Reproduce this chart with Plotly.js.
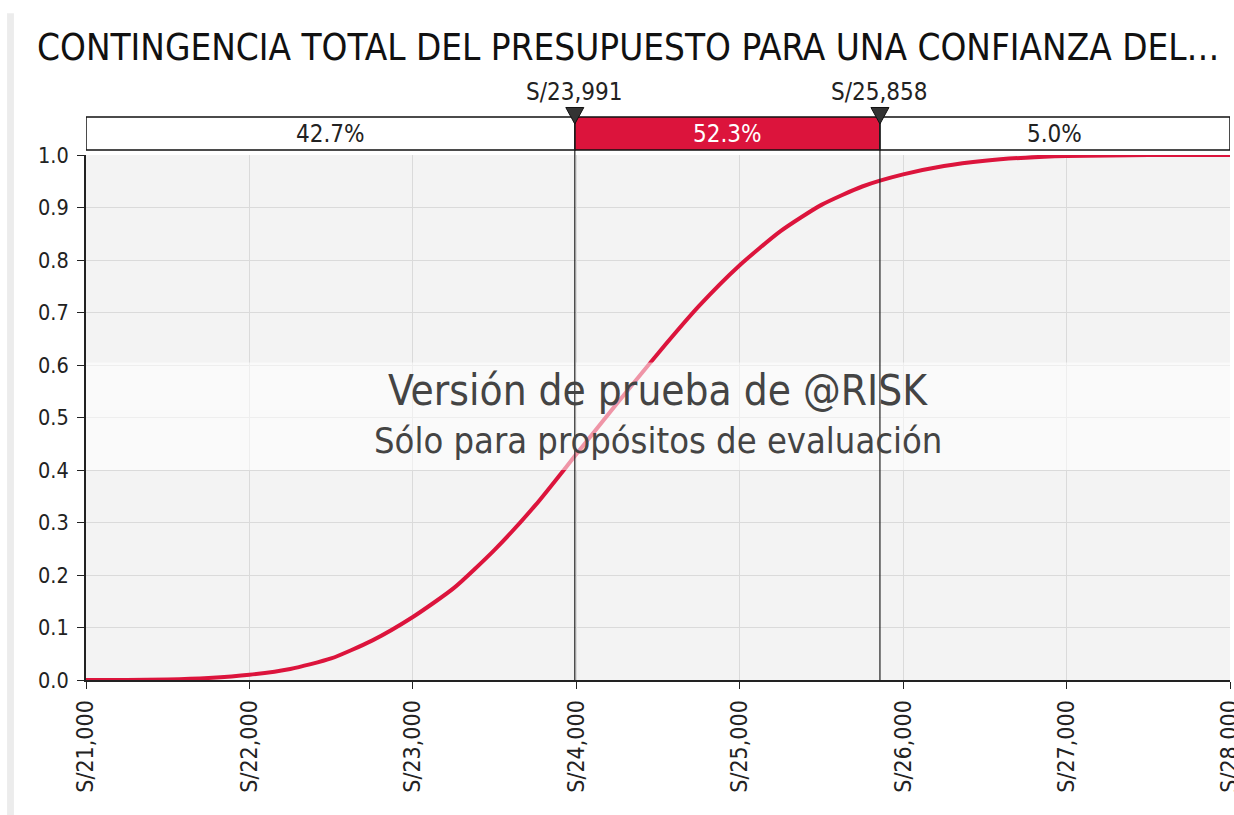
<!DOCTYPE html>
<html><head><meta charset="utf-8">
<script src="https://cdn.plot.ly/plotly-3.0.1.min.js"></script>
<style>html,body{margin:0;padding:0;background:#fff}#chart{width:1234px;height:815px}</style>
</head><body><div id="chart"></div>
<script>
// ---- data ----
const costX = [21000,21250,21500,21750,22000,22250,22500,22750,23000,23250,23500,23750,24000,24250,24500,24750,25000,25250,25500,25750,26000,26250,26500,26750,27000,27500,28000];
const cumProb = [0.000,0.000,0.001,0.004,0.010,0.021,0.041,0.075,0.120,0.175,0.248,0.333,0.430,0.527,0.622,0.712,0.790,0.855,0.905,0.940,0.963,0.979,0.989,0.995,0.998,1.000,1.000];
const markerX = [23991, 25858];
const markerLabels = ["S/23,991", "S/25,858"];
const segmentPct = ["42.7%", "52.3%", "5.0%"];
const xTickVals = [21000,22000,23000,24000,25000,26000,27000,28000];
const xTickText = ["S/21,000","S/22,000","S/23,000","S/24,000","S/25,000","S/26,000","S/27,000","S/28,000"];
const yTickVals = [0,0.1,0.2,0.3,0.4,0.5,0.6,0.7,0.8,0.9,1.0];
const xMin = 21000, xMax = 28000;
const titleText = "CONTINGENCIA TOTAL DEL PRESUPUESTO PARA UNA CONFIANZA DEL…";
const watermark1 = "Versión de prueba de @RISK";
const watermark2 = "Sólo para propósitos de evaluación";

const FONT = "DejaVu Sans Condensed, DejaVu Sans, sans-serif";
const RED = "#dc143c";
const bandY0 = 1.0095, bandY1 = 1.0724;

const traces = [
  {x: costX, y: cumProb, type: 'scatter', mode: 'lines', line: {color: RED, width: 4, shape: 'spline', smoothing: 0.6}, hoverinfo: 'skip'}
];

const bounds = [xMin, markerX[0], markerX[1], xMax];
const shapes = [
  {type:'rect', xref:'paper', yref:'paper', x0:-0.069, x1:-0.063, y0:-0.26, y1:1.27, fillcolor:'#ececec', line:{width:0}, layer:'below'},
  // watermark band
  {type:'rect', xref:'paper', yref:'paper', x0:0, x1:1, y0:0.40, y1:0.605, fillcolor:'rgba(255,255,255,0.55)', line:{width:0}, layer:'above'},
];
for (let i = 0; i < 3; i++) {
  shapes.push({type:'rect', xref:'x', yref:'paper', x0:bounds[i], x1:bounds[i+1], y0:bandY0, y1:bandY1,
    fillcolor: i === 1 ? RED : '#ffffff', line:{color:'#111', width:1.5}, layer:'above'});
}
markerX.forEach(mx => shapes.push({type:'line', xref:'x', yref:'paper', x0:mx, x1:mx, y0:0, y1:bandY1, line:{color:'#222', width:1.2}, layer:'above'}));
markerX.forEach(mx => shapes.push({type:'path', xref:'x', yref:'paper', xsizemode:'pixel', ysizemode:'pixel',
  xanchor: mx, yanchor: bandY1, path:'M -9,9.5 L 9,9.5 L 0,-7 Z', fillcolor:'#333', line:{color:'#111', width:1}, layer:'above'}));

const annotations = [
  {text: titleText, xref:'paper', yref:'paper', x:0.474, y:1.204, xanchor:'center', yanchor:'middle', showarrow:false, font:{family:FONT, size:36.6, color:'#111'}},
  {text: watermark1, xref:'paper', yref:'paper', x:0.5, y:0.552, xanchor:'center', yanchor:'middle', showarrow:false, font:{family:FONT, size:42, color:'#444'}},
  {text: watermark2, xref:'paper', yref:'paper', x:0.5, y:0.456, xanchor:'center', yanchor:'middle', showarrow:false, font:{family:FONT, size:36, color:'#444'}}
];
for (let i = 0; i < 3; i++) {
  annotations.push({text: segmentPct[i], xref:'x', yref:'paper', x:(bounds[i]+bounds[i+1])/2, y:(bandY0+bandY1)/2,
    xanchor:'center', yanchor:'middle', showarrow:false, font:{family:FONT, size:24, color: i === 1 ? '#fff' : '#222'}});
}
markerX.forEach((mx, i) => annotations.push({text: markerLabels[i], xref:'x', yref:'paper', x:mx, y:1.12,
  xanchor:'center', yanchor:'middle', showarrow:false, font:{family:FONT, size:24, color:'#222'}}));

const layout = {
  width: 1234, height: 815,
  margin: {l:86, r:4, t:155, b:135},
  paper_bgcolor: '#ffffff', plot_bgcolor: '#f3f3f3',
  showlegend: false,
  font: {family: FONT, color:'#222'},
  xaxis: {range:[xMin, xMax], tickvals: xTickVals, ticktext: xTickText, tickangle: -90,
    showgrid:true, gridcolor:'#dadada', gridwidth:1, zeroline:false,
    showline:true, linecolor:'#222', linewidth:2, ticks:'outside', ticklen:7, tickcolor:'#222',
    ticklabelstandoff: 2, ticklabeloverflow: 'allow',
    tickfont:{family:FONT, size:23, color:'#222'}, fixedrange:true},
  yaxis: {range:[0, 1], tickvals: yTickVals, tickformat:'.1f',
    showgrid:true, gridcolor:'#dadada', gridwidth:1, zeroline:false,
    showline:true, linecolor:'#222', linewidth:2, ticks:'outside', ticklen:7, tickcolor:'#222',
    ticklabelstandoff: 4,
    tickfont:{family:FONT, size:21.5, color:'#222'}, fixedrange:true},
  shapes: shapes,
  annotations: annotations
};
Plotly.newPlot('chart', traces, layout, {displayModeBar:false, staticPlot:true});
</script></body></html>
